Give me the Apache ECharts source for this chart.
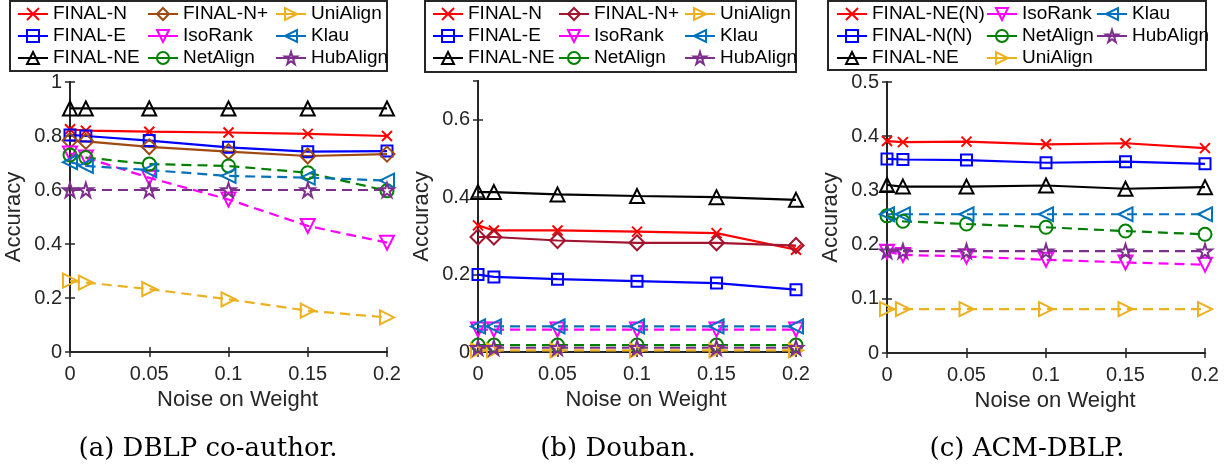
<!DOCTYPE html>
<html>
<head>
<meta charset="utf-8">
<script src="https://cdn.jsdelivr.net/npm/echarts@6/dist/echarts.min.js"></script>
<style>
html,body{margin:0;padding:0;background:#fff;}
#chart{width:1229px;height:465px;}
</style>
</head>
<body>
<div id="chart"></div>
<script>
// ---------- data ----------
const noise = [0, 0.01, 0.05, 0.1, 0.15, 0.2];
const xTicks = [0, 0.05, 0.1, 0.15, 0.2];

// (a) DBLP co-author
const aFinalN     = [0.825, 0.820, 0.816, 0.813, 0.808, 0.800];
const aFinalE     = [0.804, 0.800, 0.783, 0.758, 0.742, 0.744];
const aFinalNE    = [0.902, 0.902, 0.902, 0.902, 0.902, 0.902];
const aFinalNPlus = [0.783, 0.780, 0.760, 0.742, 0.726, 0.733];
const aIsoRank    = [0.735, 0.720, 0.645, 0.565, 0.467, 0.405];
const aNetAlign   = [0.730, 0.720, 0.696, 0.689, 0.664, 0.597];
const aUniAlign   = [0.264, 0.257, 0.233, 0.195, 0.153, 0.128];
const aKlau       = [0.703, 0.689, 0.674, 0.652, 0.646, 0.635];
const aHubAlign   = [0.600, 0.600, 0.600, 0.600, 0.600, 0.600];

// (b) Douban
const bFinalN     = [0.327, 0.314, 0.314, 0.311, 0.307, 0.264];
const bFinalE     = [0.200, 0.194, 0.188, 0.183, 0.178, 0.161];
const bFinalNE    = [0.413, 0.413, 0.407, 0.403, 0.400, 0.393];
const bFinalNPlus = [0.297, 0.297, 0.288, 0.282, 0.282, 0.275];
const bIsoRank    = [0.058, 0.058, 0.058, 0.058, 0.058, 0.058];
const bNetAlign   = [0.018, 0.018, 0.018, 0.018, 0.018, 0.018];
const bUniAlign   = [0.004, 0.004, 0.004, 0.004, 0.004, 0.004];
const bKlau       = [0.066, 0.066, 0.066, 0.066, 0.066, 0.066];
const bHubAlign   = [0.011, 0.011, 0.011, 0.011, 0.011, 0.011];

// (c) ACM-DBLP
const cFinalNEN   = [0.391, 0.389, 0.390, 0.385, 0.387, 0.378];
const cFinalNN    = [0.358, 0.357, 0.356, 0.351, 0.353, 0.349];
const cFinalNE    = [0.310, 0.307, 0.307, 0.309, 0.303, 0.306];
const cIsoRank    = [0.187, 0.181, 0.178, 0.172, 0.167, 0.163];
const cNetAlign   = [0.253, 0.243, 0.238, 0.232, 0.225, 0.219];
const cUniAlign   = [0.081, 0.081, 0.081, 0.081, 0.081, 0.081];
const cKlau       = [0.256, 0.256, 0.256, 0.256, 0.256, 0.256];
const cHubAlign   = [0.188, 0.188, 0.188, 0.188, 0.188, 0.188];

const captions = ['(a) DBLP co-author.', '(b) Douban.', '(c) ACM-DBLP.'];
const xName = 'Noise on Weight';
const yName = 'Accuracy';

// ---------- styles ----------
const CROSS = 'path://M0,0L10,10M0,10L10,0';
const STAR = 'path://M50,0L61.2,34.5L97.6,34.5L68.2,55.9L79.4,90.5L50,69.1L20.6,90.5L31.8,55.9L2.4,34.5L38.8,34.5Z';
const styles = {
  cross:   {symbol: CROSS, size: 10, rot: 0},
  square:  {symbol: 'rect', size: 11, rot: 0},
  tri:     {symbol: 'triangle', size: 14, rot: 0},
  diamond: {symbol: 'diamond', size: 15, rot: 0},
  triDown: {symbol: 'triangle', size: 14, rot: 180},
  circle:  {symbol: 'circle', size: 13, rot: 0},
  triRight:{symbol: 'triangle', size: 14, rot: -90},
  triLeft: {symbol: 'triangle', size: 14, rot: 90},
  star:    {symbol: STAR, size: 14, rot: 0}
};

const panels = [
  {key: 'a', ymax: 1, yint: 0.2, grid: {left: 70, top: 82, width: 317, height: 270},
   box: [10, 1, 377, 70], cols: [17, 147, 275], capX: 203,
   series: [
     ['FINAL-N', aFinalN, '#FF0000', 'cross', false],
     ['FINAL-E', aFinalE, '#0000FF', 'square', false],
     ['FINAL-NE', aFinalNE, '#000000', 'tri', false],
     ['FINAL-N+', aFinalNPlus, '#A04A12', 'diamond', false],
     ['IsoRank', aIsoRank, '#FF00FF', 'triDown', true],
     ['NetAlign', aNetAlign, '#008000', 'circle', true],
     ['UniAlign', aUniAlign, '#EDB120', 'triRight', true],
     ['Klau', aKlau, '#0072BD', 'triLeft', true],
     ['HubAlign', aHubAlign, '#7E2F8E', 'star', true]
   ]},
  {key: 'b', ymax: 0.7, yint: 0.2, grid: {left: 478, top: 81, width: 318, height: 271},
   box: [425, 1, 371, 71], cols: [432, 558, 684], capX: 613,
   series: [
     ['FINAL-N', bFinalN, '#FF0000', 'cross', false],
     ['FINAL-E', bFinalE, '#0000FF', 'square', false],
     ['FINAL-NE', bFinalNE, '#000000', 'tri', false],
     ['FINAL-N+', bFinalNPlus, '#A2142F', 'diamond', false],
     ['IsoRank', bIsoRank, '#FF00FF', 'triDown', true],
     ['NetAlign', bNetAlign, '#008000', 'circle', true],
     ['UniAlign', bUniAlign, '#EDB120', 'triRight', true],
     ['Klau', bKlau, '#0072BD', 'triLeft', true],
     ['HubAlign', bHubAlign, '#7E2F8E', 'star', true]
   ]},
  {key: 'c', ymax: 0.5, yint: 0.1, grid: {left: 887, top: 82, width: 318, height: 271},
   box: [828, 1, 378, 69], cols: [836, 986, 1096], capX: 1022,
   series: [
     ['FINAL-NE(N)', cFinalNEN, '#FF0000', 'cross', false],
     ['FINAL-N(N)', cFinalNN, '#0000FF', 'square', false],
     ['FINAL-NE', cFinalNE, '#000000', 'tri', false],
     ['IsoRank', cIsoRank, '#FF00FF', 'triDown', true],
     ['NetAlign', cNetAlign, '#008000', 'circle', true],
     ['UniAlign', cUniAlign, '#EDB120', 'triRight', true],
     ['Klau', cKlau, '#0072BD', 'triLeft', true],
     ['HubAlign', cHubAlign, '#7E2F8E', 'star', true]
   ]}
];

const FONT = 'Liberation Sans';
const AX = '#262626';
const grid = [], xAxis = [], yAxis = [], series = [], legend = [], title = [], graphic = [];

panels.forEach((p, gi) => {
  grid.push(Object.assign({containLabel: false}, p.grid));
  // bottom x axis
  xAxis.push({
    type: 'value', gridIndex: gi, min: 0, max: 0.2, interval: 0.05, position: 'bottom',
    name: xName, nameLocation: 'middle', nameGap: 32,
    nameTextStyle: {fontFamily: FONT, fontSize: 22, color: '#262626', padding: [0, 0, 0, 18]},
    axisLine: {lineStyle: {color: AX, width: 2}},
    axisTick: {inside: true, length: 5, lineStyle: {color: AX, width: 1.5}},
    axisLabel: {fontFamily: FONT, fontSize: 20, color: '#262626', margin: 12},
    splitLine: {show: false}
  });
  // top x axis (box)
  xAxis.push({
    type: 'value', gridIndex: gi, min: 0, max: 0.2, interval: 0.05, position: 'top',
    axisLine: {lineStyle: {color: AX, width: 2}},
    axisTick: {inside: true, length: 5, lineStyle: {color: AX, width: 1.5}},
    axisLabel: {show: false}, splitLine: {show: false}
  });
  yAxis.push({
    type: 'value', gridIndex: gi, min: 0, max: p.ymax, interval: p.yint, position: 'left',
    name: yName, nameLocation: 'middle', nameGap: 45,
    nameTextStyle: {fontFamily: FONT, fontSize: 22, color: '#262626'},
    axisLine: {show: true, lineStyle: {color: AX, width: 2}},
    axisTick: {show: true, inside: true, length: 5, lineStyle: {color: AX, width: 1.5}},
    axisLabel: {fontFamily: FONT, fontSize: 20, color: '#262626', margin: 8, showMaxLabel: p.key !== 'b'},
    splitLine: {show: false}
  });
  yAxis.push({
    type: 'value', gridIndex: gi, min: 0, max: p.ymax, interval: p.yint, position: 'right',
    axisLine: {show: true, lineStyle: {color: AX, width: 2}},
    axisTick: {show: true, inside: true, length: 5, lineStyle: {color: AX, width: 1.5}},
    axisLabel: {show: false}, splitLine: {show: false}
  });

  const names = [];
  p.series.forEach(([label, vals, color, st, dashed]) => {
    const s = styles[st];
    const nm = label + '|' + p.key;
    names.push(nm);
    series.push({
      type: 'line', name: nm, xAxisIndex: gi * 2, yAxisIndex: gi * 2,
      data: noise.map((x, i) => [x, vals[i]]),
      symbol: s.symbol, symbolSize: s.size, symbolRotate: s.rot, showAllSymbol: true,
      clip: false, animation: false,
      lineStyle: {color: color, width: 2.2, type: dashed ? [10, 6] : 'solid'},
      itemStyle: {color: 'rgba(255,255,255,0)', borderColor: color, borderWidth: 2},
      emphasis: {disabled: true}
    });
  });
  // legends, one per column (3 rows each, column-major)
  for (let c = 0; c < 3; c++) {
    const colNames = names.slice(c * 3, c * 3 + 3);
    legend.push({
      data: colNames, orient: 'vertical', left: p.cols[c], top: 3, padding: 0,
      itemGap: 0, itemWidth: 30, itemHeight: 15, selectedMode: false,
      formatter: n => n.split('|')[0],
      lineStyle: {type: 'solid'},
      textStyle: {fontFamily: FONT, fontSize: 19, color: '#000', lineHeight: 22, padding: [0, 0, 0, 0]}
    });
  }
  graphic.push({
    type: 'rect', shape: {x: p.box[0], y: p.box[1], width: p.box[2], height: p.box[3]},
    style: {fill: 'none', stroke: AX, lineWidth: 2}, z: 0, silent: true
  });
  title.push({
    text: captions[gi], left: p.capX, top: 431, textAlign: 'center',
    textStyle: {fontFamily: 'DejaVu Serif', fontSize: 26, fontWeight: 'normal', color: '#000'}
  });
});

const chart = echarts.init(document.getElementById('chart'), null, {renderer: 'canvas'});
chart.setOption({
  backgroundColor: '#fff', animation: false,
  grid, xAxis, yAxis, series, legend, title, graphic
});
</script>
</body>
</html>
